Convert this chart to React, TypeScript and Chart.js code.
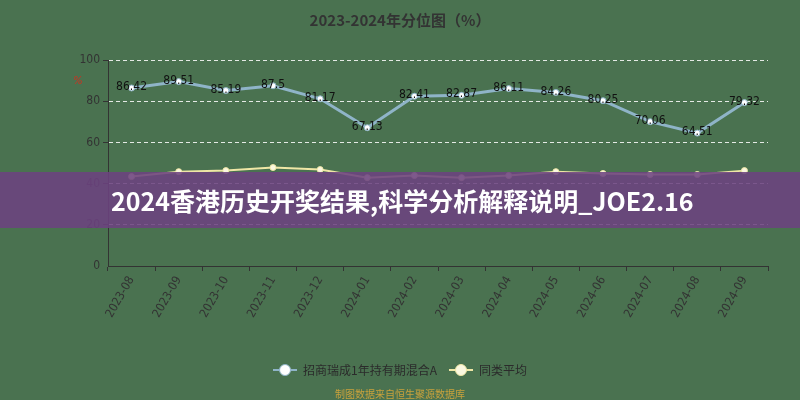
import React, { useRef, useEffect } from 'react';
import { Chart, registerables } from 'chart.js';

Chart.register(...registerables);

// datos
const months = [
    '2023-08', '2023-09', '2023-10', '2023-11', '2023-12', '2024-01', '2024-02',
    '2024-03', '2024-04', '2024-05', '2024-06', '2024-07', '2024-08', '2024-09',
];
const fundValues = [86.42, 89.51, 85.19, 87.5, 81.17, 67.13, 82.41, 82.87, 86.11, 84.26, 80.25, 70.06, 64.51, 79.32];
const peerAverage = [43.4, 45.8, 46.3, 47.8, 46.8, 42.9, 43.9, 42.9, 43.9, 45.8, 44.9, 44.4, 44.4, 46.3];
const seriesNames = ['招商瑞成1年持有期混合A', '同类平均'];
const seriesColors = ['#8fb4c8', '#efe7a6'];
const pointFills = ['#ffffff', '#fbf8e0'];
const yTicks = [0, 20, 40, 60, 80, 100];

const chartTitle = '2023-2024年分位图（%）';
const sourceNote = '制图数据来自恒生聚源数据库';
const bannerText = '2024香港历史开奖结果,科学分析解释说明_JOE2.16';

const narrowFont = "'Liberation Sans Narrow', 'DejaVu Sans Condensed', Arial, sans-serif";
const cjkFont = "'Noto Sans CJK SC', 'Noto Sans', sans-serif";

// símbolo de leyenda: línea con círculo en medio
function legendSymbol(color: string, fill: string): HTMLCanvasElement {
    const c = document.createElement('canvas');
    c.width = 24;
    c.height = 14;
    const g = c.getContext('2d')!;
    g.strokeStyle = color;
    g.lineWidth = 2;
    g.beginPath();
    g.moveTo(0, 7);
    g.lineTo(24, 7);
    g.stroke();
    g.beginPath();
    g.arc(12, 7, 5.5, 0, Math.PI * 2);
    g.fillStyle = fill;
    g.fill();
    g.lineWidth = 1;
    g.stroke();
    return c;
}

// etiquetas de valor sobre la primera serie + marca roja de "%"
const extrasPlugin = {
    id: 'extras',
    afterDatasetsDraw(chart: any) {
        const ctx = chart.ctx;
        const meta = chart.getDatasetMeta(0);
        ctx.save();
        ctx.font = `12px ${narrowFont}`;
        ctx.fillStyle = '#111';
        ctx.textAlign = 'center';
        ctx.textBaseline = 'middle';
        meta.data.forEach((pt: any, i: number) => {
            ctx.fillText(String(fundValues[i]), pt.x, pt.y - 1);
        });
        const area = chart.chartArea;
        ctx.fillStyle = '#d03020';
        ctx.font = `italic 11px ${narrowFont}`;
        ctx.fillText('%', area.left - 30, area.top + 21);
        ctx.restore();
    },
};

const QuantileChart: React.FC = () => {
    const chartRef = useRef<HTMLCanvasElement>(null);
    const chartInstanceRef = useRef<Chart | null>(null);

    useEffect(() => {
        if (!chartRef.current) return;
        const ctx = chartRef.current.getContext('2d');
        if (!ctx) return;
        if (chartInstanceRef.current) chartInstanceRef.current.destroy();

        const symbols = seriesColors.map((c, i) => legendSymbol(c, pointFills[i]));

        chartInstanceRef.current = new Chart(ctx, {
            type: 'line',
            data: {
                labels: months,
                datasets: [
                    {
                        label: seriesNames[0],
                        data: fundValues,
                        borderColor: seriesColors[0],
                        backgroundColor: pointFills[0],
                        borderWidth: 3,
                        pointRadius: 3,
                        pointBorderWidth: 1,
                        pointBorderColor: seriesColors[0],
                        pointBackgroundColor: pointFills[0],
                        tension: 0,
                    },
                    {
                        label: seriesNames[1],
                        data: peerAverage,
                        borderColor: seriesColors[1],
                        backgroundColor: pointFills[1],
                        borderWidth: 2,
                        pointRadius: 3,
                        pointBorderWidth: 1,
                        pointBorderColor: seriesColors[1],
                        pointBackgroundColor: pointFills[1],
                        tension: 0,
                    },
                ],
            },
            options: {
                responsive: true,
                maintainAspectRatio: false,
                animation: false,
                layout: { padding: { top: 6, right: 0, left: 0, bottom: 0 } },
                scales: {
                    x: {
                        offset: true,
                        grid: {
                            offset: true,
                            drawOnChartArea: false,
                            drawTicks: true,
                            tickLength: 5,
                            tickColor: '#333',
                        },
                        border: { display: true, color: '#333', width: 1 },
                        ticks: {
                            color: '#333',
                            font: { size: 12, family: narrowFont },
                            minRotation: 60,
                            maxRotation: 60,
                            autoSkip: false,
                        },
                        afterFit(scale: any) {
                            scale.height = 86;
                        },
                    },
                    y: {
                        min: 0,
                        max: 100,
                        afterBuildTicks(scale: any) {
                            scale.ticks = yTicks.map(v => ({ value: v }));
                        },
                        grid: {
                            color: 'rgba(255,255,255,0.85)',
                            tickColor: '#333',
                            tickLength: 5,
                            lineWidth: (c: any) => (c.tick && c.tick.value === 0 ? 0 : 1),
                        },
                        border: { display: true, color: '#333', width: 1, dash: [4, 3] },
                        ticks: {
                            color: '#333',
                            font: { size: 12, family: narrowFont },
                            padding: 3,
                        },
                        afterFit(scale: any) {
                            scale.width = 108;
                        },
                    },
                    // eje vacío a la derecha solo para reservar margen
                    yRight: {
                        position: 'right',
                        min: 0,
                        max: 100,
                        grid: { display: false },
                        border: { display: false },
                        ticks: { display: false },
                        afterFit(scale: any) {
                            scale.width = 32;
                        },
                    },
                },
                plugins: {
                    title: {
                        display: true,
                        text: chartTitle,
                        color: '#333',
                        font: { size: 15, weight: 'bold', family: cjkFont },
                        padding: { top: 5, bottom: 31 },
                    },
                    subtitle: {
                        display: true,
                        position: 'bottom',
                        text: sourceNote,
                        color: '#c9a23c',
                        font: { size: 10, family: cjkFont },
                        padding: { top: 2, bottom: 0 },
                    },
                    legend: {
                        position: 'bottom',
                        labels: {
                            color: '#2b2b2b',
                            font: { size: 12, family: cjkFont },
                            usePointStyle: true,
                            pointStyleWidth: 24,
                            boxHeight: 12,
                            padding: 12,
                            generateLabels(chart: any) {
                                const items = Chart.defaults.plugins.legend.labels.generateLabels(chart);
                                return items.map((it: any, i: number) => ({ ...it, pointStyle: symbols[i] }));
                            },
                        },
                    },
                    tooltip: { enabled: false },
                },
            },
            plugins: [extrasPlugin],
        } as any);

        return () => {
            if (chartInstanceRef.current) {
                chartInstanceRef.current.destroy();
                chartInstanceRef.current = null;
            }
        };
    }, []);

    return (
        <div style={{ position: 'fixed', left: 0, top: 0, width: 800, height: 400, background: '#4a7250' }}>
            <canvas ref={chartRef}></canvas>
            <div
                style={{
                    position: 'absolute',
                    left: 0,
                    top: 172,
                    width: 800,
                    height: 56,
                    background: 'rgba(108, 66, 128, 0.88)',
                    color: '#ffffff',
                    fontFamily: cjkFont,
                    fontWeight: 'bold',
                    fontSize: 25,
                    lineHeight: '56px',
                    paddingLeft: 111,
                    boxSizing: 'border-box',
                    whiteSpace: 'nowrap',
                }}
            >
                {bannerText}
            </div>
        </div>
    );
};

export default function App() {
    return <QuantileChart />;
}
